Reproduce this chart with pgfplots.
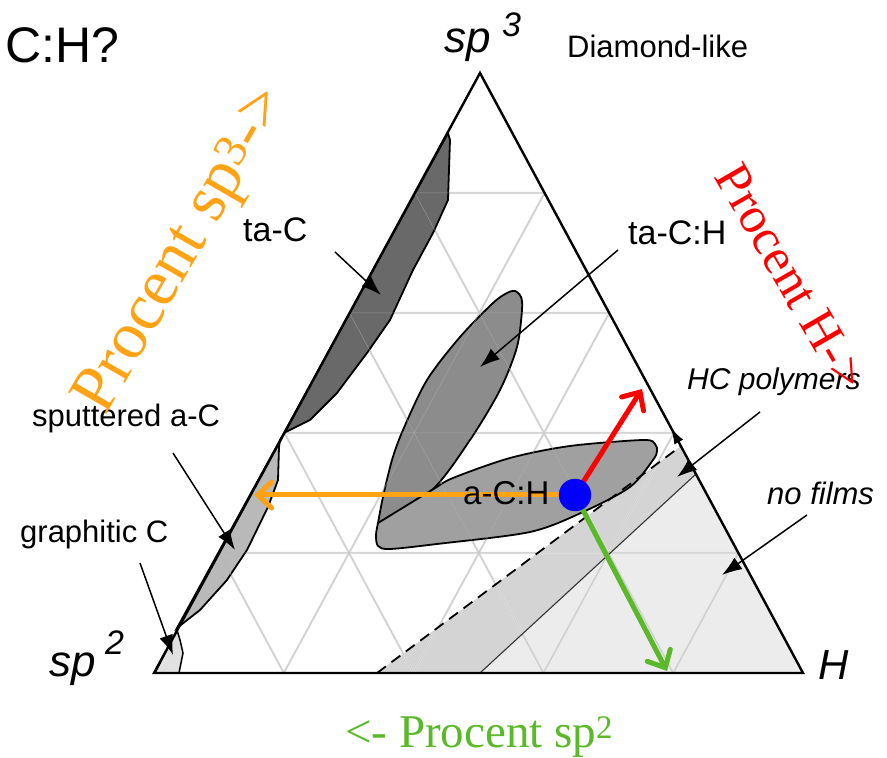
\documentclass[border=0pt]{standalone}
\usepackage{fontspec}
\setmainfont{Liberation Sans}
\newfontfamily\serif{Liberation Serif}
\usepackage{pgfplots}
\pgfplotsset{compat=1.18}
\usetikzlibrary{arrows.meta}
\definecolor{myorange}{RGB}{255,162,20}
\definecolor{mygreen}{RGB}{90,185,40}
\definecolor{myred}{RGB}{255,0,0}
\definecolor{myblue}{RGB}{0,0,255}
\definecolor{taC}{RGB}{105,105,105}
\definecolor{taCH}{RGB}{140,140,140}
\definecolor{aCH}{RGB}{160,160,160}
\definecolor{sput}{RGB}{185,185,185}
\definecolor{graph}{RGB}{225,225,225}
\definecolor{hcpol}{RGB}{212,212,212}
\definecolor{nofilm}{RGB}{236,236,236}
\newcommand{\fs}[1]{\fontsize{#1}{#1}\selectfont}
\begin{document}
\begin{tikzpicture}
\begin{axis}[x=1pt,y=1pt,xmin=0,xmax=887,ymin=0,ymax=757,hide axis,clip=false]
\addplot[draw=none] coordinates {(0,0) (887,757)};
% region fills
\addplot[fill=hcpol, draw=none] coordinates {(377,84) (681,311) (696,283) (480,84)} -- cycle;
\addplot[fill=nofilm, draw=none] coordinates {(480,84) (696,283) (803,84)} -- cycle;
% broad light grid
\addplot[gray!25, line width=2.2pt, unbounded coords=jump] coordinates {
(219.2,204) (738.4,204) (nan,nan)
(284.4,324) (673.8,324) (nan,nan)
(349.6,444) (609.2,444) (nan,nan)
(414.8,564) (544.6,564) (nan,nan)
(283.8,84) (544.6,564) (nan,nan)
(413.6,84) (609.2,444) (nan,nan)
(543.4,84) (673.8,324) (nan,nan)
(673.2,84) (738.4,204) (nan,nan)
(283.8,84) (219.2,204) (nan,nan)
(413.6,84) (284.4,324) (nan,nan)
(543.4,84) (349.6,444) (nan,nan)
(673.2,84) (414.8,564)};
% shapes
\addplot[fill=taCH, draw=black, line width=1.8pt, smooth, tension=0.5] coordinates {
(378,234) (383,260) (392,297) (403,327) (427,377) (460,420) (493,454) (507,464) (515,466) (521,460) (522,447) (517,410) (500,367) (470,317) (432,267) (378,234)};
\addplot[fill=aCH, draw=black, line width=1.8pt, smooth, tension=0.5] coordinates {
(378,234) (432,267) (453,279) (510,299) (570,311) (643,317) (655,313) (657,306) (653,297) (630,270) (583,245) (530,225) (437,213) (390,208) (378,211) (376,222) (378,234)};
\addplot[fill=taC, draw=black, line width=1.8pt] coordinates {
(448,624) (450,617) (448,557) (433,524) (413,487) (390,437) (367,404) (337,364) (310,337) (284,324)} -- cycle;
\addplot[fill=sput, draw=black, line width=1.8pt] coordinates {
(284,324) (280,317) (279,310) (278,277) (268,250) (247,207) (227,177) (200,147) (177,129)} -- cycle;
\addplot[fill=graph, draw=black, line width=1.5pt] coordinates {
(155,84) (177,127) (180,117) (183,104) (179,84)} -- cycle;
% thin grid on top
\addplot[gray!60, line width=0.5pt, opacity=0.6, unbounded coords=jump] coordinates {
(219.2,204) (738.4,204) (nan,nan)
(284.4,324) (673.8,324) (nan,nan)
(349.6,444) (609.2,444) (nan,nan)
(414.8,564) (544.6,564) (nan,nan)
(283.8,84) (544.6,564) (nan,nan)
(413.6,84) (609.2,444) (nan,nan)
(543.4,84) (673.8,324) (nan,nan)
(673.2,84) (738.4,204) (nan,nan)
(283.8,84) (219.2,204) (nan,nan)
(413.6,84) (284.4,324) (nan,nan)
(543.4,84) (349.6,444) (nan,nan)
(673.2,84) (414.8,564)};
% dashed and solid boundaries
\addplot[black, line width=1.8pt, dash pattern=on 11pt off 7pt] coordinates {(377,84) (681,311)};
\addplot[black!80, line width=1.1pt] coordinates {(480,84) (696,283)};
% triangle
\addplot[black, line width=2.4pt, line join=miter] coordinates {(154,84) (803,84) (480,684)} -- cycle;
% annotation arrows
\addplot[black, line width=1.5pt, -{Latex[length=20pt,width=14pt]}] coordinates {(335,505) (381,462)};
\addplot[black, line width=1.5pt, -{Latex[length=20pt,width=14pt]}] coordinates {(618,507) (480,390)};
\addplot[black, line width=1.5pt, -{Latex[length=20pt,width=14pt]}] coordinates {(173,304) (235,207)};
\addplot[black, line width=1.5pt, -{Latex[length=20pt,width=14pt]}] coordinates {(140,194) (173,102)};
\addplot[black, line width=1.5pt, -{Latex[length=20pt,width=14pt]}] coordinates {(760,345) (677,280)};
\addplot[black, line width=1.5pt, -{Latex[length=20pt,width=14pt]}] coordinates {(807,242) (722,182)};
\addplot[black, line width=1.2pt, -{Latex[length=16pt,width=10pt]}] coordinates {(682,309) (671,329)};
% coloured arrows
\addplot[myorange, line width=5pt, line cap=round, -{Straight Barb[length=14pt,width=26pt,line cap=round]}] coordinates {(575,262) (254,262)};
\addplot[myred, line width=5pt, line cap=round, -{Straight Barb[length=14pt,width=26pt,line cap=round]}] coordinates {(575,262) (642,368)};
\addplot[mygreen, line width=5pt, line cap=round, -{Straight Barb[length=14pt,width=26pt,line cap=round]}] coordinates {(575,262) (667,86)};
\addplot[only marks, mark=*, mark size=16pt, color=myblue, mark options={fill=myblue, draw=myblue}] coordinates {(575,262)};
% labels
\node[anchor=base west, inner sep=0] at (axis cs:5,694) {\fs{50}C:H?};
\node[anchor=base west, inner sep=0] at (axis cs:444,704) {\fs{44}\itshape sp};
\node[anchor=base west, inner sep=0] at (axis cs:502,720) {\fs{34}\itshape 3};
\node[anchor=base west, inner sep=0] at (axis cs:567,699) {\fs{31}Diamond-like};
\node[anchor=base west, inner sep=0] at (axis cs:243,515) {\fs{34}ta-C};
\node[anchor=base west, inner sep=0] at (axis cs:628,512) {\fs{34}ta-C:H};
\node[anchor=base west, inner sep=0] at (axis cs:687,367) {\fs{30}\itshape HC polymers};
\node[anchor=base west, inner sep=0] at (axis cs:32,330) {\fs{31}sputtered a-C};
\node[anchor=base west, inner sep=0] at (axis cs:20,214) {\fs{31}graphitic C};
\node[anchor=base west, inner sep=0] at (axis cs:463,252) {\fs{33}a-C:H};
\node[anchor=base west, inner sep=0] at (axis cs:767,252) {\fs{31}\itshape no films};
\node[anchor=base west, inner sep=0] at (axis cs:49,80) {\fs{44}\itshape sp};
\node[anchor=base west, inner sep=0] at (axis cs:105,102) {\fs{34}\itshape 2};
\node[anchor=base west, inner sep=0] at (axis cs:818,77) {\fs{42}\itshape H};
% coloured texts
\node[anchor=base west, inner sep=0, text=mygreen] at (axis cs:345,9) {\serif\fs{47}<- Procent sp\textsuperscript{2}};
\node[anchor=center, inner sep=0, text=myorange, rotate=60] at (axis cs:184,506) {\serif\fs{67}Procent sp\textsuperscript{3}->};
\node[anchor=center, inner sep=0, text=myred, rotate=-60] at (axis cs:791,480) {\serif\fs{51}Procent H->};
\end{axis}
\end{tikzpicture}
\end{document}
